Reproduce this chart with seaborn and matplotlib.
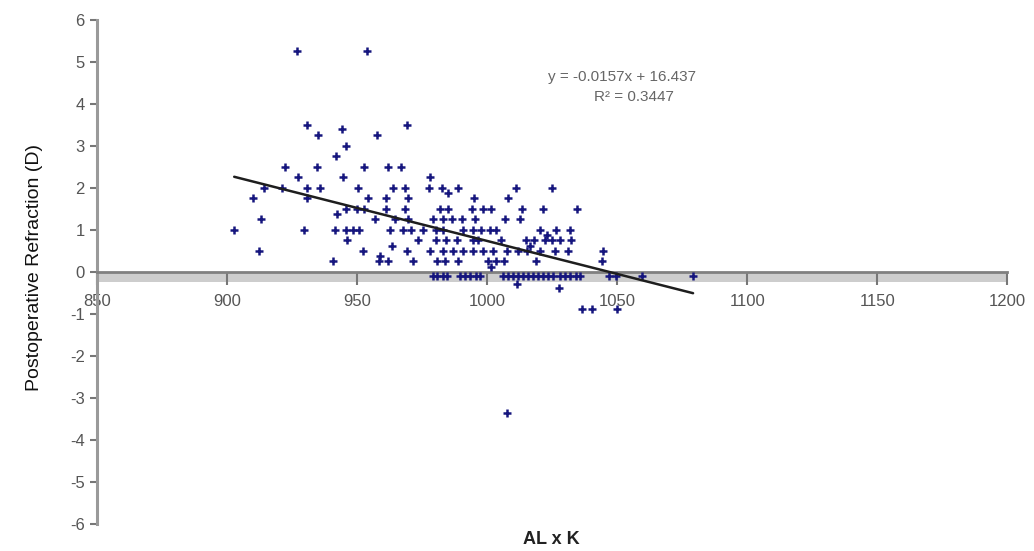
import numpy as np
import pandas as pd
import seaborn as sns
import matplotlib.pyplot as plt

# AL x K values, grouped by refraction level (same order as refraction below)
al_k = [
    926.9, 953.8,
    930.8, 969.2,
    944.2,
    935.0, 957.7,
    945.8,
    941.9,
    922.3, 934.6, 952.7, 961.9, 966.9,
    927.3, 944.6, 978.1,
    914.2, 921.2, 930.8, 935.8, 950.4, 963.8, 968.5, 977.7, 982.7, 988.8, 1011.2, 1025.0,
    985.0,
    910.0, 930.8, 954.2, 961.2, 969.6, 995.0, 1008.1,
    945.8, 950.0, 952.7, 961.2, 968.5, 981.9, 985.0, 994.2, 998.5, 1001.5, 1013.5, 1021.5, 1034.6,
    942.3,
    913.1, 956.9, 964.6, 969.6, 979.2, 983.1, 986.5, 990.4, 995.4, 1006.9, 1012.7,
    902.7, 929.6, 941.5, 945.8, 948.5, 950.8, 962.7, 967.7, 970.8, 975.4, 980.4, 983.1, 990.8,
    994.6, 997.7, 1001.2, 1003.5, 1020.4, 1026.5, 1031.9,
    1023.1,
    946.2, 973.5, 980.4, 984.2, 988.5, 994.6, 996.5, 1005.4, 1015.0, 1018.1, 1022.3, 1025.0, 1028.1, 1032.3,
    963.5, 1016.5,
    912.3, 952.3, 969.2, 978.1, 983.1, 986.9, 990.8, 994.6, 998.5, 1002.3, 1007.7, 1011.9, 1015.4,
    1020.4, 1026.2, 1031.2, 1044.6,
    958.8,
    940.8, 958.5, 961.9, 971.5, 980.8, 983.8, 988.8, 1000.4, 1003.5, 1006.5, 1018.8, 1044.2,
    1001.5,
    979.2, 980.8, 983.1, 984.6, 989.6, 991.5, 993.5, 995.8, 997.3, 1006.2, 1008.1, 1010.0, 1011.9,
    1013.8, 1015.8, 1017.7, 1019.6, 1021.5, 1023.5, 1025.4, 1028.1, 1030.0, 1031.9, 1034.2, 1035.8,
    1046.9, 1049.6, 1059.6, 1079.2,
    1011.5, 1027.7,
    1036.5, 1040.4, 1050.0,
    1007.7,
]

refraction = (
    [5.25] * 2 + [3.5] * 2 + [3.4] + [3.25] * 2 + [3.0] + [2.75] + [2.5] * 5 + [2.25] * 3
    + [2.0] * 12 + [1.875] + [1.75] * 7 + [1.5] * 13 + [1.375] + [1.25] * 11 + [1.0] * 20
    + [0.875] + [0.75] * 14 + [0.625] * 2 + [0.5] * 17 + [0.375] + [0.25] * 12 + [0.125]
    + [-0.1] * 29 + [-0.28, -0.375] + [-0.875] * 3 + [-3.35]
)

slope = -0.0157
intercept = 16.437
r_squared = 0.3447

x_ticks = list(range(850, 1201, 50))
y_ticks = list(range(-6, 7))

df = pd.DataFrame({"AL x K": al_k, "Refraction": refraction})

sns.set_theme(style="white")
plt.rcParams['font.family'] = ['Liberation Sans', 'DejaVu Sans']
plt.rcParams['axes.unicode_minus'] = False

fig = plt.figure(figsize=(10.34, 5.51), dpi=100)
ax = fig.add_axes([0.094, 0.049, 0.880, 0.915])

# grey band under the axis line
ax.axhspan(-0.24, 0, color='#cdcdcd', lw=0, zorder=0)

sns.scatterplot(data=df, x="AL x K", y="Refraction", marker='+', color='#16167e',
                s=38, linewidth=1.8, ax=ax, zorder=3)

trend_x = np.array([min(al_k), max(al_k)])
trend_y = slope * trend_x + intercept
sns.lineplot(x=trend_x, y=trend_y, color='#1e1e1e', lw=1.8, ax=ax, zorder=4)

ax.set_xlim(850, 1200)
ax.set_ylim(-6, 6)
ax.set_xticks(x_ticks)
ax.set_yticks(y_ticks)

ax.spines['bottom'].set_position(('data', 0))
ax.spines['bottom'].set_color('#808080')
ax.spines['bottom'].set_linewidth(2)
ax.spines['left'].set_color('#9a9a9a')
ax.spines['left'].set_linewidth(2.2)
ax.spines['top'].set_visible(False)
ax.spines['right'].set_visible(False)

ax.tick_params(axis='x', direction='out', length=9, width=1.5, color='#777777',
               labelcolor='#555555', labelsize=12, pad=7, bottom=True)
ax.tick_params(axis='y', direction='out', length=5, width=1.5, color='#777777',
               labelcolor='#555555', labelsize=12, pad=4, left=True)

ax.set_xlabel("AL x K", fontsize=13, fontweight='bold', color='#222222', va='bottom')
ax.xaxis.set_label_coords(0.499, -0.048)
ax.set_ylabel("Postoperative Refraction (D)", fontsize=14, color='#111111')
ax.yaxis.set_label_coords(-0.06, 0.508)

ax.text(1051.9, 4.64, 'y = {}x + {}'.format(slope, intercept), ha='center', va='center',
        color='#666666', fontsize=11)
ax.text(1056.5, 4.16, 'R² = {}'.format(r_squared), ha='center', va='center',
        color='#666666', fontsize=11)

fig.savefig("out.png", dpi=100)
